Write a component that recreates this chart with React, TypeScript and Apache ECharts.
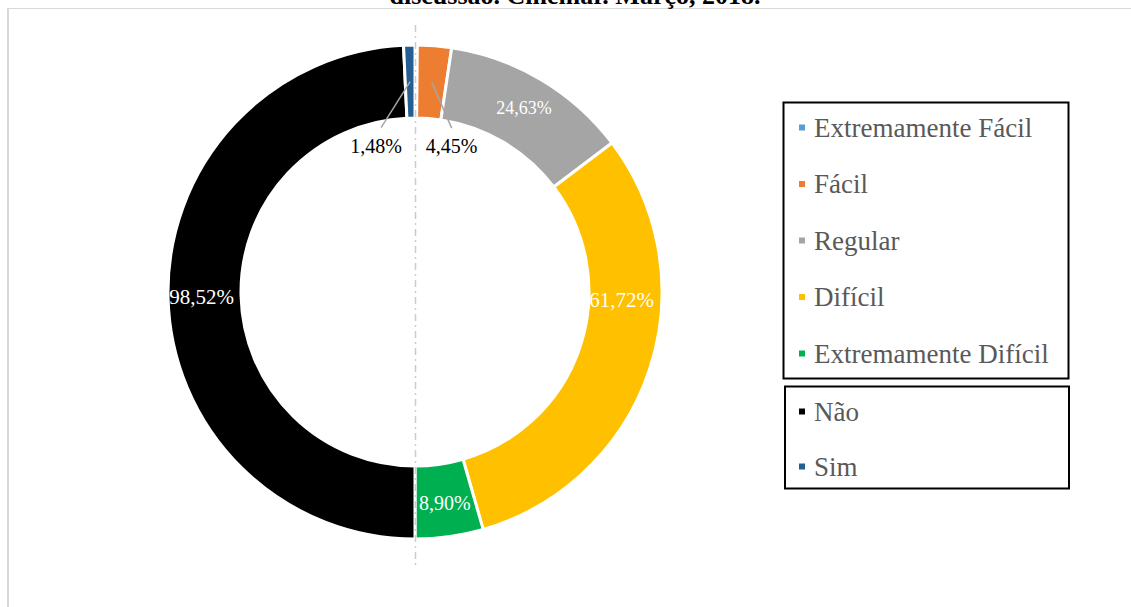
import { useEffect, useRef } from "react";
import * as echarts from "echarts";

const categories = [
  "Extremamente Fácil",
  "Fácil",
  "Regular",
  "Difícil",
  "Extremamente Difícil",
  "Não",
  "Sim",
];
const values = [0.3, 4.45, 24.63, 61.72, 8.9, 98.52, 1.48];
const colors = ["#5B9BD5", "#ED7D31", "#A5A5A5", "#FFC000", "#00B050", "#000000", "#255E91"];
const legendGroup1 = categories.slice(0, 5);
const legendGroup2 = categories.slice(5);
const titleText = "discussão. Cinemar. Março, 2018.";

const FONT = "'Liberation Serif', 'Times New Roman', serif";
const CX = 415;
const CY = 292;
const R0 = 174;
const R1 = 247;

function midPoint(i: number): [number, number] {
  const total = values.reduce((a, b) => a + b, 0);
  let before = 0;
  for (let k = 0; k < i; k++) before += values[k];
  const a = ((before + values[i] / 2) / total) * Math.PI * 2;
  const rm = (R0 + R1) / 2;
  return [CX + rm * Math.sin(a), CY - rm * Math.cos(a)];
}

// label offsets from each slice's mid-ring point (Sim, Fácil moved into the hole)
const outsideIdx = [1, 6];
function movedLabel(i: number): [number, number] {
  const m = midPoint(i);
  return [m[0] + (i === 6 ? -34 : 20), m[1] + 64];
}

const fmt = (v: number) => v.toFixed(2).replace(".", ",") + "%";

export default function App() {
  const ref = useRef<HTMLDivElement>(null);
  useEffect(() => {
    if (!ref.current) return;
    const chart = echarts.init(ref.current, null, { renderer: "svg" });
    const data = categories.map((name, i) => {
      const outsideLbl = outsideIdx.includes(i);
      return {
        name,
        value: values[i],
        itemStyle: { color: colors[i] },
        label: {
          show: i !== 0,
          position: outsideLbl ? "outside" : "inside",
          color: outsideLbl ? "#000000" : "#ffffff",
          fontSize: i === 2 ? 18 : i === 3 || i === 5 ? 21 : 20,
        },
        labelLine: { show: false },
      };
    });
    const leaderLines = outsideIdx.map((i) => {
      const m = midPoint(i);
      const l = movedLabel(i);
      return {
        type: "line",
        z: 100,
        shape: { x1: m[0], y1: m[1], x2: l[0] + (i === 6 ? 5 : 0), y2: l[1] - 18 },
        style: { stroke: "#a6a6a6", lineWidth: 1.5 },
        silent: true,
      };
    });
    const legendText = {
      fontFamily: FONT,
      fontSize: 27,
      lineHeight: 26,
      color: "#595959",
      padding: [0, 0, 0, 3],
    };
    chart.setOption({
      animation: false,
      backgroundColor: "#ffffff",
      graphic: [
        {
          type: "line",
          shape: { x1: 7, y1: 8.5, x2: 1131, y2: 8.5 },
          style: { stroke: "#d9d9d9", lineWidth: 1 },
          silent: true,
        },
        {
          type: "line",
          shape: { x1: 8, y1: 8, x2: 8, y2: 607 },
          style: { stroke: "#d9d9d9", lineWidth: 2 },
          silent: true,
        },
        {
          type: "text",
          x: 575,
          y: -5,
          style: {
            text: titleText,
            font: `bold 26px ${FONT}`,
            fill: "#000000",
            align: "center",
            verticalAlign: "middle",
          },
          silent: true,
        },
        {
          type: "line",
          z: 10,
          shape: { x1: 415.5, y1: 25, x2: 415.5, y2: 566 },
          style: { stroke: "#cccccc", lineWidth: 1.5, lineDash: [7, 4, 2, 4] },
          silent: true,
        },
        ...leaderLines,
        {
          type: "rect",
          shape: { x: 783.5, y: 102.5, width: 285, height: 276 },
          style: { fill: "none", stroke: "#000000", lineWidth: 2 },
          silent: true,
        },
        {
          type: "rect",
          shape: { x: 785, y: 386.5, width: 284, height: 102 },
          style: { fill: "none", stroke: "#000000", lineWidth: 2 },
          silent: true,
        },
      ],
      legend: [
        {
          data: legendGroup1,
          orient: "vertical",
          left: 797,
          top: 114,
          padding: 0,
          itemGap: 29.5,
          itemWidth: 8,
          itemHeight: 8,
          icon: "rect",
          selectedMode: false,
          textStyle: legendText,
        },
        {
          data: legendGroup2,
          orient: "vertical",
          left: 797,
          top: 398,
          padding: 0,
          itemGap: 28,
          itemWidth: 8,
          itemHeight: 8,
          icon: "rect",
          selectedMode: false,
          textStyle: legendText,
        },
      ],
      series: [
        {
          type: "pie",
          center: [CX, CY],
          radius: [R0, R1],
          startAngle: 90,
          clockwise: true,
          avoidLabelOverlap: false,
          silent: true,
          emphasis: { disabled: true },
          itemStyle: { borderColor: "#ffffff", borderWidth: 3 },
          label: {
            fontFamily: FONT,
            formatter: (p: any) => fmt(p.value),
          },
          labelLayout: (p: any) => {
            const i = p.dataIndex;
            if (outsideIdx.includes(i)) {
              const l = movedLabel(i);
              return { x: l[0], y: l[1], align: "center", verticalAlign: "middle" };
            }
            if (i === 3) {
              const m = midPoint(i);
              return { x: m[0] + 7, y: m[1] - 59, align: "center", verticalAlign: "middle" };
            }
            return {};
          },
          data,
        },
      ],
    });
    return () => chart.dispose();
  }, []);
  return (
    <div
      ref={ref}
      style={{ position: "fixed", left: 0, top: 0, width: 1131, height: 607 }}
    />
  );
}
